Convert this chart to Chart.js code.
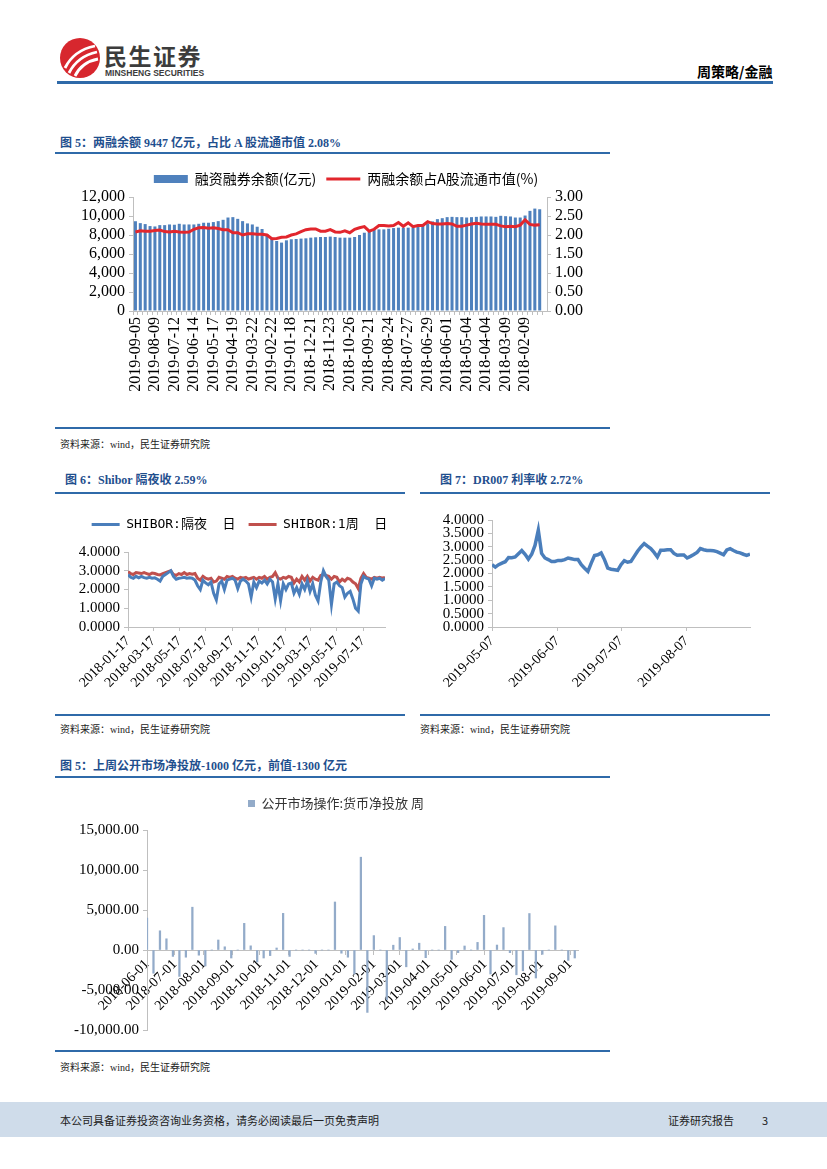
<!DOCTYPE html>
<html lang="zh-CN">
<head>
<meta charset="utf-8">
<title>周策略/金融</title>
<script src="https://cdn.jsdelivr.net/npm/chart.js@4.4.1/dist/chart.umd.min.js"></script>
<style>
  html, body { margin: 0; padding: 0; background: #fff; }
  body { position: relative; width: 827px; height: 1169px; overflow: hidden; font-family: "Liberation Serif", "Noto Sans CJK SC", serif; color: #000; }
  .abs { position: absolute; line-height: 1; white-space: nowrap; }
  .rule { position: absolute; height: 2px; background: #2f6aa9; }
  .title { position: absolute; line-height: 1; font-size: 12px; font-weight: bold; color: #1f4f8e; white-space: nowrap; }
  .src { position: absolute; line-height: 1; font-size: 10px; color: #222; white-space: nowrap; font-family: "Liberation Serif", "Noto Sans CJK SC", serif; }
  .box { position: absolute; }
  .foot { position: absolute; left: 0; top: 1102px; width: 827px; height: 35px; background: #cfdcea; }
  .foot span { position: absolute; top: 13px; font: 11px "Noto Sans CJK SC", sans-serif; line-height: 1; color: #222; }
</style>
</head>
<body>

<!-- header -->
<svg class="abs" style="left:59px;top:37px" width="42" height="42" viewBox="0 0 42 42">
  <circle cx="21" cy="21" r="20" fill="#d7272e"/>
  <path d="M6 31 C11 21 21 12 36 9" stroke="#fff" stroke-width="2.8" fill="none"/>
  <path d="M10 36 C15 26 24 18 38 15" stroke="#fff" stroke-width="2.8" fill="none"/>
  <path d="M16 39 C20 31 28 24 39 22" stroke="#fff" stroke-width="2.8" fill="none"/>
</svg>
<div class="abs" style="left:104px;top:38px;font:bold 23px 'Noto Sans CJK SC';color:#3c3c3c;letter-spacing:1.5px">民生证券</div>
<div class="abs" style="left:105px;top:68px;font:bold 8.5px 'Liberation Sans';color:#3c3c3c">MINSHENG SECURITIES</div>
<div class="abs" style="left:697px;top:61px;font:bold 14px 'Noto Sans CJK SC'">周策略/金融</div>
<div class="rule" style="left:57px;top:81px;width:716px;height:3px"></div>

<!-- figure 5 -->
<div class="title" style="left:60px;top:137px">图 5：两融余额 9447 亿元，占比 A 股流通市值 2.08%</div>
<div class="rule" style="left:55px;top:152px;width:555px"></div>
<div class="box" style="left:60px;top:162px;width:550px;height:250px"><canvas id="c1"></canvas></div>
<div class="rule" style="left:55px;top:427px;width:555px"></div>
<div class="src" style="left:60px;top:440px">资料来源：wind，民生证券研究院</div>

<!-- figure 6 -->
<div class="title" style="left:65px;top:474px">图 6：Shibor 隔夜收 2.59%</div>
<div class="rule" style="left:55px;top:492px;width:350px"></div>
<div class="box" style="left:60px;top:505px;width:345px;height:205px"><canvas id="c2"></canvas></div>
<div class="rule" style="left:55px;top:714px;width:350px"></div>
<div class="src" style="left:60px;top:725px">资料来源：wind，民生证券研究院</div>

<!-- figure 7 -->
<div class="title" style="left:440px;top:474px">图 7：DR007 利率收 2.72%</div>
<div class="rule" style="left:420px;top:492px;width:350px"></div>
<div class="box" style="left:420px;top:505px;width:350px;height:205px"><canvas id="c3"></canvas></div>
<div class="rule" style="left:420px;top:714px;width:350px"></div>
<div class="src" style="left:420px;top:725px">资料来源：wind，民生证券研究院</div>

<!-- figure 5 (open market) -->
<div class="title" style="left:60px;top:760px">图 5：上周公开市场净投放-1000 亿元，前值-1300 亿元</div>
<div class="rule" style="left:55px;top:776px;width:555px"></div>
<div class="box" style="left:60px;top:785px;width:550px;height:265px"><canvas id="c4"></canvas></div>
<div class="rule" style="left:55px;top:1050px;width:555px"></div>
<div class="src" style="left:60px;top:1063px">资料来源：wind，民生证券研究院</div>

<!-- footer -->
<div class="foot">
  <span style="left:60px">本公司具备证券投资咨询业务资格，请务必阅读最后一页免责声明</span>
  <span style="left:668px">证券研究报告</span>
  <span style="left:762px">3</span>
</div>

<script>
// margin financing, weekly, newest first
const marginTicks = ['2019-09-05', '2019-08-09', '2019-07-12', '2019-06-14', '2019-05-17', '2019-04-19', '2019-03-22',
  '2019-02-22', '2019-01-18', '2018-12-21', '2018-11-23', '2018-10-26', '2018-09-21', '2018-08-24', '2018-07-27',
  '2018-06-29', '2018-06-01', '2018-05-04', '2018-04-04', '2018-03-09', '2018-02-09'];
const marginBalance = [9450, 9250, 9150, 8940, 8900, 9040, 9040, 9110, 9080, 9180,
  9110, 9110, 9110, 9180, 9290, 9290, 9360, 9460, 9600, 9840,
  9880, 9700, 9460, 9220, 9110, 8870, 8630, 8100, 7720, 7370,
  7200, 7440, 7550, 7580, 7620, 7650, 7720, 7760, 7790, 7790,
  7830, 7790, 7720, 7720, 7720, 7790, 8000, 8240, 8350, 8560,
  8590, 8590, 8660, 8730, 8770, 8770, 8770, 8800, 8900, 9040,
  9220, 9430, 9670, 9770, 9880, 9910, 9880, 9880, 9840, 9880,
  9910, 9950, 9950, 9950, 9910, 10020, 9980, 9950, 9840, 9840,
  10050, 10540, 10780, 10710, 10500];
const marginRatio = [2.08, 2.11, 2.10, 2.10, 2.12, 2.13, 2.09, 2.08, 2.10, 2.08,
  2.07, 2.08, 2.15, 2.19, 2.20, 2.18, 2.19, 2.17, 2.14, 2.14,
  2.06, 2.06, 2.00, 2.03, 2.03, 2.02, 2.02, 2.00, 1.90, 1.91,
  1.94, 1.95, 2.00, 2.03, 2.09, 2.14, 2.16, 2.16, 2.10, 2.10,
  2.14, 2.08, 2.07, 2.11, 2.06, 2.15, 2.19, 2.22, 2.10, 2.15,
  2.25, 2.25, 2.24, 2.25, 2.33, 2.23, 2.32, 2.22, 2.25, 2.25,
  2.35, 2.30, 2.29, 2.29, 2.30, 2.29, 2.23, 2.23, 2.26, 2.29,
  2.31, 2.29, 2.28, 2.28, 2.28, 2.24, 2.22, 2.23, 2.22, 2.26,
  2.40, 2.28, 2.26, 2.27, 2.26];

// shibor, sampled evenly from 2018-01-17 to 2019-09-06
const shiborTicks = ['2018-01-17', '2018-03-17', '2018-05-17', '2018-07-17', '2018-09-17',
  '2018-11-17', '2019-01-17', '2019-03-17', '2019-05-17', '2019-07-17'];
const shiborEnd = '2019-09-06';
const shiborOvernight = [2.80, 2.65, 2.60, 2.70, 2.62, 2.70, 2.63, 2.60, 2.65, 2.60,
  2.62, 2.55, 2.45, 2.70, 2.80, 2.90, 3.00, 2.70, 2.55, 2.60,
  2.62, 2.65, 2.60, 2.62, 2.60, 2.50, 2.20, 2.00, 2.50, 2.35,
  2.25, 2.40, 1.80, 1.45, 2.30, 2.45, 2.00, 2.50, 2.55, 2.60,
  2.50, 2.05, 2.45, 2.55, 2.45, 2.30, 1.60, 2.40, 2.10, 2.45,
  2.35, 2.50, 2.30, 2.55, 2.40, 1.50, 2.30, 1.40, 2.30, 2.00,
  2.30, 2.35, 1.80, 2.10, 1.75, 2.30, 2.00, 2.45, 1.90, 2.30,
  1.70, 1.40, 2.40, 3.00, 2.70, 2.50, 1.20, 2.30, 2.40, 2.20,
  2.10, 1.60, 1.80, 1.90, 1.50, 1.00, 0.85, 2.30, 2.70, 2.60,
  2.55, 2.20, 2.60, 2.55, 2.60, 2.50, 2.59];
const shiborWeek = [2.95, 2.85, 2.80, 2.90, 2.88, 2.85, 2.90, 2.85, 2.80, 2.88,
  2.85, 2.80, 2.78, 2.85, 2.90, 2.95, 3.00, 2.80, 2.75, 2.85,
  2.80, 2.90, 2.80, 2.85, 2.82, 2.85, 2.60, 2.50, 2.70, 2.60,
  2.55, 2.60, 2.40, 2.45, 2.65, 2.60, 2.55, 2.70, 2.65, 2.70,
  2.60, 2.55, 2.65, 2.60, 2.65, 2.55, 2.60, 2.65, 2.55, 2.65,
  2.60, 2.70, 2.55, 2.65, 2.70, 2.90, 2.60, 2.55, 2.65, 2.60,
  2.70, 2.65, 2.35, 2.55, 2.40, 2.70, 2.50, 2.70, 2.45, 2.65,
  2.55, 2.50, 2.75, 2.80, 2.75, 2.70, 2.55, 2.70, 2.65, 2.40,
  2.55, 2.45, 2.60, 2.55, 2.40, 2.30, 2.05, 2.60, 2.85, 2.65,
  2.60, 2.55, 2.65, 2.60, 2.65, 2.60, 2.65];

// DR007, sampled evenly from 2019-05-07 to 2019-09-06
const drTicks = ['2019-05-07', '2019-06-07', '2019-07-07', '2019-08-07'];
const drEnd = '2019-09-06';
const dr007 = [2.33, 2.24, 2.33, 2.39, 2.44, 2.60, 2.59, 2.62, 2.74, 2.86,
  2.72, 2.54, 2.72, 3.05, 3.62, 2.75, 2.58, 2.52, 2.45, 2.45,
  2.49, 2.49, 2.52, 2.58, 2.55, 2.52, 2.52, 2.33, 2.20, 2.08,
  2.39, 2.67, 2.70, 2.77, 2.52, 2.20, 2.16, 2.14, 2.12, 2.33,
  2.48, 2.42, 2.45, 2.64, 2.83, 2.99, 3.12, 3.02, 2.93, 2.79,
  2.62, 2.87, 2.87, 2.89, 2.89, 2.75, 2.68, 2.69, 2.69, 2.58,
  2.64, 2.71, 2.79, 2.93, 2.89, 2.86, 2.86, 2.85, 2.82, 2.76,
  2.70, 2.88, 2.93, 2.86, 2.80, 2.77, 2.72, 2.68, 2.72];

// open market net injection, weekly from 2018-06-01
const omTicks = ['2018-06-01', '2018-07-01', '2018-08-01', '2018-09-01', '2018-10-01', '2018-11-01', '2018-12-01',
  '2019-01-01', '2019-02-01', '2019-03-01', '2019-04-01', '2019-05-01', '2019-06-01', '2019-07-01',
  '2019-08-01', '2019-09-01'];
const openMarket = [4000, -2900, 2400, 1400, -800, -3300, -900, 5350, -650, -2000,
  0, 1250, 400, -1000, 0, 3330, 520, -1500, -1000, -700,
  250, 4580, -800, 0, 0, 0, -420, 0, 0, 6000,
  -400, -900, -3000, 11600, -7800, 1800, 0, -6200, 600, 1560,
  -2100, 125, 850, -960, 0, 0, 2950, -1170, -330, 500,
  0, 950, 4330, -3000, 620, 2800, -330, -3100, -2600, 4560,
  -3500, -540, 0, 3020, 0, -1300, -1000];

const GRAY = '#bfbfbf';
const DAY = 864e5;
Chart.defaults.font.family = '"Liberation Serif", "Noto Sans CJK SC", serif';
Chart.defaults.color = '#000';
Chart.defaults.animation = false;
Chart.defaults.events = [];
Chart.defaults.plugins.tooltip.enabled = false;

// taller legend box and a sideways nudge
function legendTweak(extra, dx) {
  return {
    id: 'legendTweak',
    beforeInit(chart) {
      const fit = chart.legend.fit;
      chart.legend.fit = function () { fit.call(this); this.height += extra; };
    },
    afterLayout(chart) {
      chart.legend.left += dx;
      chart.legend.right += dx;
    }
  };
}

function dayPos(labels, start, end, n) {
  const step = (Date.parse(end) - Date.parse(start)) / DAY / (n - 1);
  return labels.map(d => (Date.parse(d) - Date.parse(start)) / DAY / step);
}

const axisGrid = { display: true, drawOnChartArea: false, tickLength: 4, color: GRAY };

// figure 5: margin balance
new Chart(document.getElementById('c1'), {
  type: 'bar',
  data: {
    labels: marginBalance.map((v, i) => i % 4 === 0 ? marginTicks[i / 4] : ''),
    datasets: [{
      label: '融资融券余额(亿元)',
      data: marginBalance,
      yAxisID: 'y',
      backgroundColor: '#4f81bd',
      barPercentage: 0.62,
      categoryPercentage: 1,
      pointStyle: 'rect',
      order: 1
    }, {
      type: 'line',
      label: '两融余额占A股流通市值(%)',
      data: marginRatio,
      yAxisID: 'y2',
      borderColor: '#e2262d',
      backgroundColor: '#e2262d',
      borderWidth: 3,
      pointRadius: 0,
      pointStyle: 'line',
      order: 0
    }]
  },
  options: {
    responsive: true,
    maintainAspectRatio: false,
    plugins: {
      legend: {
        labels: {
          usePointStyle: true, pointStyleWidth: 34, boxHeight: 8, padding: 10,
          font: { family: '"Noto Sans CJK SC"', size: 14 },
          sort: (a, b) => a.datasetIndex - b.datasetIndex
        }
      }
    },
    scales: {
      x: {
        offset: true,
        grid: axisGrid,
        border: { color: GRAY },
        ticks: { autoSkip: false, maxRotation: 90, minRotation: 90, padding: 2, font: { size: 16 } },
        afterFit: s => { s.height = 101; }
      },
      y: {
        position: 'left', min: 0, max: 12000,
        grid: axisGrid,
        border: { color: GRAY },
        ticks: { autoSkip: false, stepSize: 2000, padding: 4, font: { size: 16 }, callback: v => v.toLocaleString('en-US') },
        afterFit: s => { s.width = 73; }
      },
      y2: {
        position: 'right', min: 0, max: 3,
        grid: axisGrid,
        border: { color: GRAY },
        ticks: { autoSkip: false, stepSize: 0.5, padding: 4, font: { size: 16 }, callback: v => v.toFixed(2) },
        afterFit: s => { s.width = 63; }
      }
    }
  },
  plugins: [legendTweak(1, 11)]
});

// figure 6: shibor
const shiborPos = dayPos(shiborTicks, shiborTicks[0], shiborEnd, shiborOvernight.length);
new Chart(document.getElementById('c2'), {
  type: 'line',
  data: {
    datasets: [{
      label: 'SHIBOR:隔夜  日',
      data: shiborOvernight.map((y, x) => ({ x, y })),
      borderColor: '#4a7ebb', backgroundColor: '#4a7ebb',
      borderWidth: 3, pointRadius: 0, pointStyle: 'line'
    }, {
      label: 'SHIBOR:1周  日',
      data: shiborWeek.map((y, x) => ({ x, y })),
      borderColor: '#c0504d', backgroundColor: '#c0504d',
      borderWidth: 3, pointRadius: 0, pointStyle: 'line'
    }]
  },
  options: {
    responsive: true,
    maintainAspectRatio: false,
    layout: { padding: { right: 20 } },
    plugins: {
      legend: {
        labels: {
          usePointStyle: true, pointStyleWidth: 28, boxHeight: 8, padding: 13,
          font: { family: '"DejaVu Sans Mono", "Noto Sans CJK SC"', size: 13 }
        }
      }
    },
    scales: {
      x: {
        type: 'linear', min: 0, max: shiborOvernight.length - 1, offset: false,
        afterBuildTicks: s => { s.ticks = shiborPos.map(value => ({ value })); },
        grid: axisGrid,
        border: { color: GRAY },
        ticks: { autoSkip: false, maxRotation: 45, minRotation: 45, padding: 2, font: { size: 14 }, callback: (v, i) => shiborTicks[i] },
        afterFit: s => { s.height = 83; }
      },
      y: {
        min: 0, max: 4,
        grid: axisGrid,
        border: { color: GRAY },
        ticks: { autoSkip: false, stepSize: 1, padding: 4, font: { size: 15 }, callback: v => v.toFixed(4) },
        afterFit: s => { s.width = 68; }
      }
    }
  },
  plugins: [legendTweak(11, 17)]
});

// figure 7: DR007
const drPos = dayPos(drTicks, drTicks[0], drEnd, dr007.length);
new Chart(document.getElementById('c3'), {
  type: 'line',
  data: {
    datasets: [{
      label: 'DR007',
      data: dr007.map((y, x) => ({ x, y })),
      borderColor: '#4a7ebb',
      borderWidth: 3.5, pointRadius: 0
    }]
  },
  options: {
    responsive: true,
    maintainAspectRatio: false,
    layout: { padding: { top: 15, right: 20 } },
    plugins: { legend: { display: false } },
    scales: {
      x: {
        type: 'linear', min: 0, max: dr007.length - 1, offset: false,
        afterBuildTicks: s => { s.ticks = drPos.map(value => ({ value })); },
        grid: axisGrid,
        border: { color: GRAY },
        ticks: { autoSkip: false, maxRotation: 45, minRotation: 45, padding: 2, font: { size: 14 }, callback: (v, i) => drTicks[i] },
        afterFit: s => { s.height = 83; }
      },
      y: {
        min: 0, max: 4,
        grid: axisGrid,
        border: { color: GRAY },
        ticks: { autoSkip: false, stepSize: 0.5, padding: 4, font: { size: 15 }, callback: v => v.toFixed(4) },
        afterFit: s => { s.width = 72; }
      }
    }
  }
});

// figure 5: open market operations
const omPos = omTicks.map(d => (Date.parse(d) - Date.parse(omTicks[0])) / DAY / 7);
new Chart(document.getElementById('c4'), {
  type: 'bar',
  data: {
    datasets: [{
      label: '公开市场操作:货币净投放 周',
      data: openMarket.map((y, x) => ({ x, y })),
      backgroundColor: '#93abc9',
      barThickness: 1.6,
      pointStyle: 'rect'
    }]
  },
  options: {
    responsive: true,
    maintainAspectRatio: false,
    layout: { padding: { right: 32, bottom: 20 } },
    plugins: {
      legend: {
        labels: {
          usePointStyle: true, pointStyleWidth: 7, boxHeight: 7, padding: 12, color: '#333',
          font: { family: '"Noto Sans CJK SC"', size: 13 }
        }
      }
    },
    scales: {
      x: {
        type: 'linear', position: { y: 0 }, min: 0, max: 66.5, offset: false,
        afterBuildTicks: s => { s.ticks = omPos.map(value => ({ value })); },
        grid: { display: true, drawOnChartArea: false, tickLength: 4, color: GRAY, offset: false },
        border: { color: GRAY },
        ticks: { autoSkip: false, maxRotation: 45, minRotation: 45, padding: 2, font: { size: 14 }, callback: (v, i) => omTicks[i] }
      },
      y: {
        min: -10000, max: 15000,
        grid: axisGrid,
        border: { color: GRAY },
        ticks: { autoSkip: false, stepSize: 5000, padding: 4, font: { size: 15 }, callback: v => v.toLocaleString('en-US', { minimumFractionDigits: 2 }) },
        afterFit: s => { s.width = 87; }
      }
    }
  },
  plugins: [legendTweak(10, 17)]
});
</script>
</body>
</html>
